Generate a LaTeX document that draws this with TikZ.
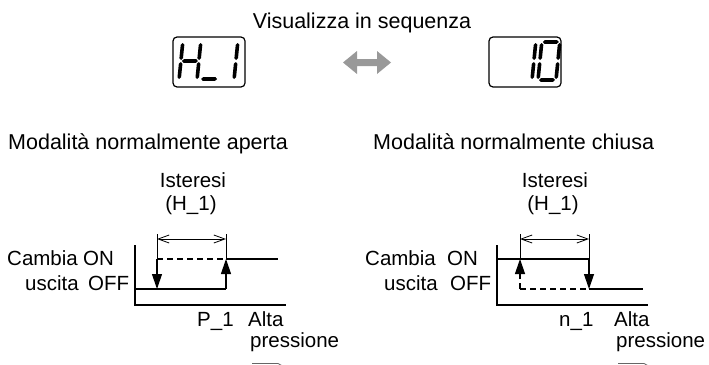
\documentclass[tikz,border=0pt]{standalone}
\usepackage{fontspec}
\setmainfont{Liberation Sans}
\usetikzlibrary{arrows.meta}

\tikzset{
  lbl/.style={inner sep=0pt, anchor=base west, font=\fontsize{20.5}{24}\selectfont},
  lblc/.style={lbl, anchor=base},
  head/.style={lbl, font=\fontsize{21.5}{24}\selectfont},
  sigline/.style={line width=1.2pt},
  dimline/.style={line width=0.8pt, {Straight Barb[length=11pt,width=8pt]}-{Straight Barb[length=11pt,width=8pt]}},
  jump/.style={line width=1.2pt, -{Triangle[length=15pt,width=10pt]}},
  dashsig/.style={dash pattern=on 6pt off 4pt},
  display/.style={line width=1.2pt, rounded corners=4pt},
}
% segments of the 7-segment digits (local coords, y up)
\newcommand{\hseg}[2]{\fill (#1,#2) -- ++(1.8,1.8) -- ++(12.4,0) -- ++(1.8,-1.8) -- ++(-1.8,-1.8) -- ++(-12.4,0) -- cycle;}
\newcommand{\vseg}[2]{\fill (#1,#2) -- ++(1.8,1.8) -- ++(0,13.4) -- ++(-1.8,1.8) -- ++(-1.8,-1.8) -- ++(0,-13.4) -- cycle;}

\begin{document}
\begin{tikzpicture}[x=1pt, y=-1pt]
                \useasboundingbox (0,0) rectangle (709,364);

                \node[head, anchor=base] (title) at (362,28) {Visualizza in sequenza};

                % displays
                \draw[display] (173,37) rectangle (245,87);
                \draw[display] (489,37) rectangle (561,87);
                \begin{scope}[shift={(179,80)}, y=1pt, xslant=0.1]
                    \vseg{0}{1} \vseg{0}{20} \vseg{18}{1} \vseg{18}{20} \hseg{1}{19}
                \end{scope}
                \begin{scope}[shift={(200,80)}, y=1pt, xslant=0.1]
                    \hseg{1}{1}
                \end{scope}
                \begin{scope}[shift={(216,80)}, y=1pt, xslant=0.1]
                    \vseg{18}{1} \vseg{18}{20}
                \end{scope}
                \begin{scope}[shift={(514,80)}, y=1pt, xslant=0.1]
                    \vseg{18}{1} \vseg{18}{20}
                \end{scope}
                \begin{scope}[shift={(538,80)}, y=1pt, xslant=0.1]
                    \vseg{0}{1} \vseg{0}{20} \vseg{18}{1} \vseg{18}{20} \hseg{1}{0} \hseg{1}{38}
                \end{scope}
                \fill[black!40] (343,62.5) -- (357,51) -- (357,59) -- (377,59) -- (377,51)
                    -- (391,62.5) -- (377,74) -- (377,66) -- (357,66) -- (357,74) -- cycle;

                \node[head] (modeNO) at (8,149) {Modalità normalmente aperta};
                \node[head] (modeNC) at (373,149) {Modalità normalmente chiusa};

                % normally open
                \node[lblc] (istA) at (193,187) {Isteresi};
                \node[lblc] (hystA) at (191,210) {(H\_1)};
                \node[lbl] (cambiaA) at (7,265) {Cambia};
                \node[lbl] (onA) at (83,265) {ON};
                \node[lbl] (uscitaA) at (25,290) {uscita};
                \node[lbl] (offA) at (88,290) {OFF};
                \node[lbl] (setA) at (197,326) {P\_1};
                \node[lbl] (altaA) at (248,326) {Alta};
                \node[lbl] (pressA) at (250,347) {pressione};

                \draw[sigline] (135,245) -- (135,305) -- (286,305);
                \draw[sigline] (135,289) -- (226,289);
                \draw[sigline, dashsig] (157,259) -- (226,259);
                \draw[sigline] (226,259) -- (278,259);
                \draw[jump] (157,259) -- (157,289);
                \draw[jump] (226,289) -- (226,259);
                \draw[line width=0.8pt] (157,234) -- (157,259);
                \draw[line width=0.8pt] (226,234) -- (226,259);
                \draw[dimline] (157,239) -- (226,239);
                \draw[line width=0.8pt, black!60] (252,363.5) -- (278,363.5) -- (290,370);

                % normally closed
                \node[lblc] (istB) at (555,187) {Isteresi};
                \node[lblc] (hystB) at (553,210) {(H\_1)};
                \node[lbl] (cambiaB) at (365,265) {Cambia};
                \node[lbl] (onB) at (447,265) {ON};
                \node[lbl] (uscitaB) at (384,290) {uscita};
                \node[lbl] (offB) at (450,290) {OFF};
                \node[lbl] (setB) at (559,326) {n\_1};
                \node[lbl] (altaB) at (614,326) {Alta};
                \node[lbl] (pressB) at (616,347) {pressione};

                \draw[sigline] (497,245) -- (497,305) -- (648,305);
                \draw[sigline] (497,259) -- (589,259);
                \draw[sigline, dashsig] (520,289) -- (589,289);
                \draw[sigline] (589,289) -- (643,289);
                \draw[jump] (589,259) -- (589,289);
                \draw[jump, dashsig] (520,289) -- (520,259);
                \draw[line width=0.8pt] (520,234) -- (520,259);
                \draw[line width=0.8pt] (589,234) -- (589,259);
                \draw[dimline] (520,239) -- (589,239);
                \draw[line width=0.8pt, black!60] (618,363.5) -- (644,363.5) -- (656,370);

            \end{tikzpicture}
\end{document}
